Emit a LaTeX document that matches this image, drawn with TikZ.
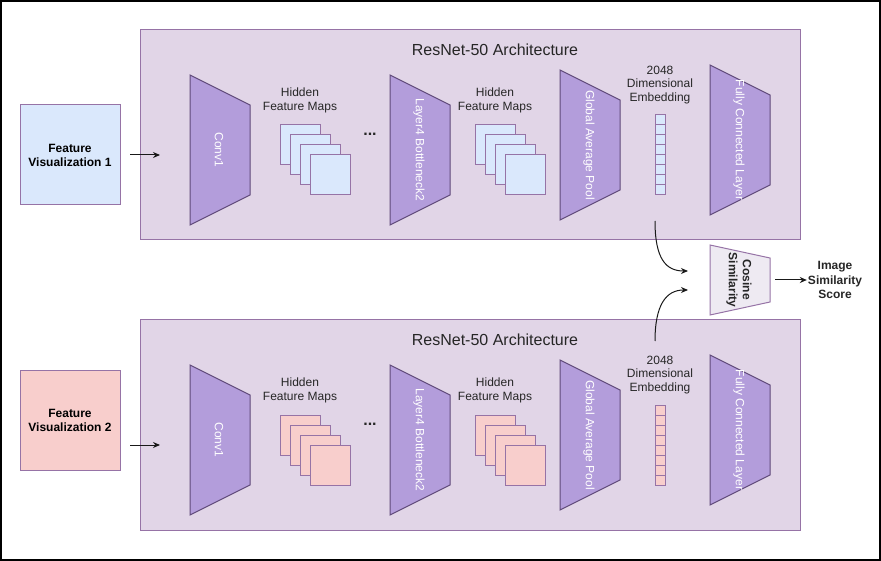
\documentclass[tikz,border=0pt]{standalone}
\usepackage{fontspec}
\setmainfont{Liberation Sans}
\usepackage{tikz}
\usetikzlibrary{positioning, arrows.meta}
\usepackage{xcolor}
\definecolor{panelFill}{RGB}{225, 213, 231}
\definecolor{panelLine}{RGB}{150, 115, 166}
\definecolor{layerFill}{RGB}{179, 157, 219}
\definecolor{layerLine}{RGB}{96, 74, 122}
\definecolor{vizBlue}{RGB}{218, 232, 252}
\definecolor{vizPink}{RGB}{248, 206, 204}
\definecolor{cosFill}{RGB}{238, 234, 242}

\begin{document}
\begin{tikzpicture}[x=1pt, y=1pt, >={Stealth[length=7pt, width=6pt]},
  font=\fontsize{12}{14}\selectfont,
  panel/.style={draw=panelLine, fill=panelFill, line width=1pt, inner sep=0pt},
  layer/.style={draw=layerLine, fill=layerFill, line width=1pt},
  layertext/.style={rotate=-90, text=white, align=center},
  fmap/.style={draw=panelLine, fill=#1, line width=1pt},
  inbox/.style={draw=panelLine, line width=1pt, minimum size=100pt, align=center,
    font=\fontsize{12}{14}\selectfont\bfseries},
  txt/.style={align=center, text=black!85},
  link/.style={draw=black!90, line width=1pt, ->}]
  \useasboundingbox (0,0) rectangle (881,-561);
  \draw[line width=2pt] (1,-1) rectangle (880,-560);

  \foreach \b/\dy/\fy/\col in {1/0/155/vizBlue, 2/290/130/vizPink} {
    \begin{scope}[yshift=-\dy]
      \node[panel, minimum width=660, minimum height=210] (net\b) at (470,-135) {};
      \node[txt, font=\fontsize{16}{19}\selectfont] (title\b) at (495,-50) {ResNet-50 Architecture};
      \node[inbox, fill=\col] (fv\b) at (70,-\fy) {Feature\\Visualization \b};
      \coordinate (src\b) at (130,-155);
      \coordinate (dst\b) at (160,-155);
      \draw[link] (src\b) -- (dst\b);
      \foreach \lx/\ly/\lname/\ltext in {190/75/conv/Conv1, 390/75/bneck/Layer4 Bottleneck2,
          560/70/gap/Global Average Pool, 710/65/fc/Fully Connected Layer} {
        \draw[layer] (\lx,-\ly) -- ++(60,-30) -- ++(0,-90) -- ++(-60,-30) -- cycle;
        \node[layertext] (\lname\b) at (\lx+29,-\ly-75) {\ltext};
      }
      \node[txt] (hidA\b) at (300,-100) {Hidden\\Feature Maps};
      \node[txt] (hidB\b) at (495,-100) {Hidden\\Feature Maps};
      \foreach \k in {0,...,3} {
        \draw[fmap=\col] (280+10*\k,-125-10*\k) rectangle ++(40,-40);
        \draw[fmap=\col] (475+10*\k,-125-10*\k) rectangle ++(40,-40);
      }
      \node[txt, font=\fontsize{16}{16}\selectfont\bfseries] (dots\b) at (370,-134) {...};
      \node[txt, font=\fontsize{12}{13.5}\selectfont] (embtext\b) at (660,-85) {2048\\Dimensional\\Embedding};
      \foreach \i in {0,...,7}
        \draw[fmap=\col] (655,-115-10*\i) rectangle ++(10,-10);
    \end{scope}
  }

  \coordinate (e1) at (655,-221);
  \coordinate (e2) at (655,-341);
  \coordinate (c1) at (688,-271);
  \coordinate (c2) at (688,-290);
  \draw[link] (e1) .. controls +(0,-38) and +(-22,0) .. (c1);
  \draw[link] (e2) .. controls +(0,36) and +(-22,0) .. (c2);

  \draw[draw=panelLine, fill=cosFill, line width=1pt]
    (710,-245) -- (770,-258) -- (770,-302) -- (710,-315) -- cycle;
  \node[txt, rotate=-90, font=\fontsize{12}{14}\selectfont\bfseries] (cos) at (739,-280) {Cosine\\Similarity};
  \coordinate (cosOut) at (775,-280);
  \node[txt, font=\fontsize{12}{14.5}\selectfont\bfseries, inner sep=1pt] (score) at (835,-280) {Image\\Similarity\\Score};
  \draw[link] (cosOut) -- (score.west);
\end{tikzpicture}
\end{document}
